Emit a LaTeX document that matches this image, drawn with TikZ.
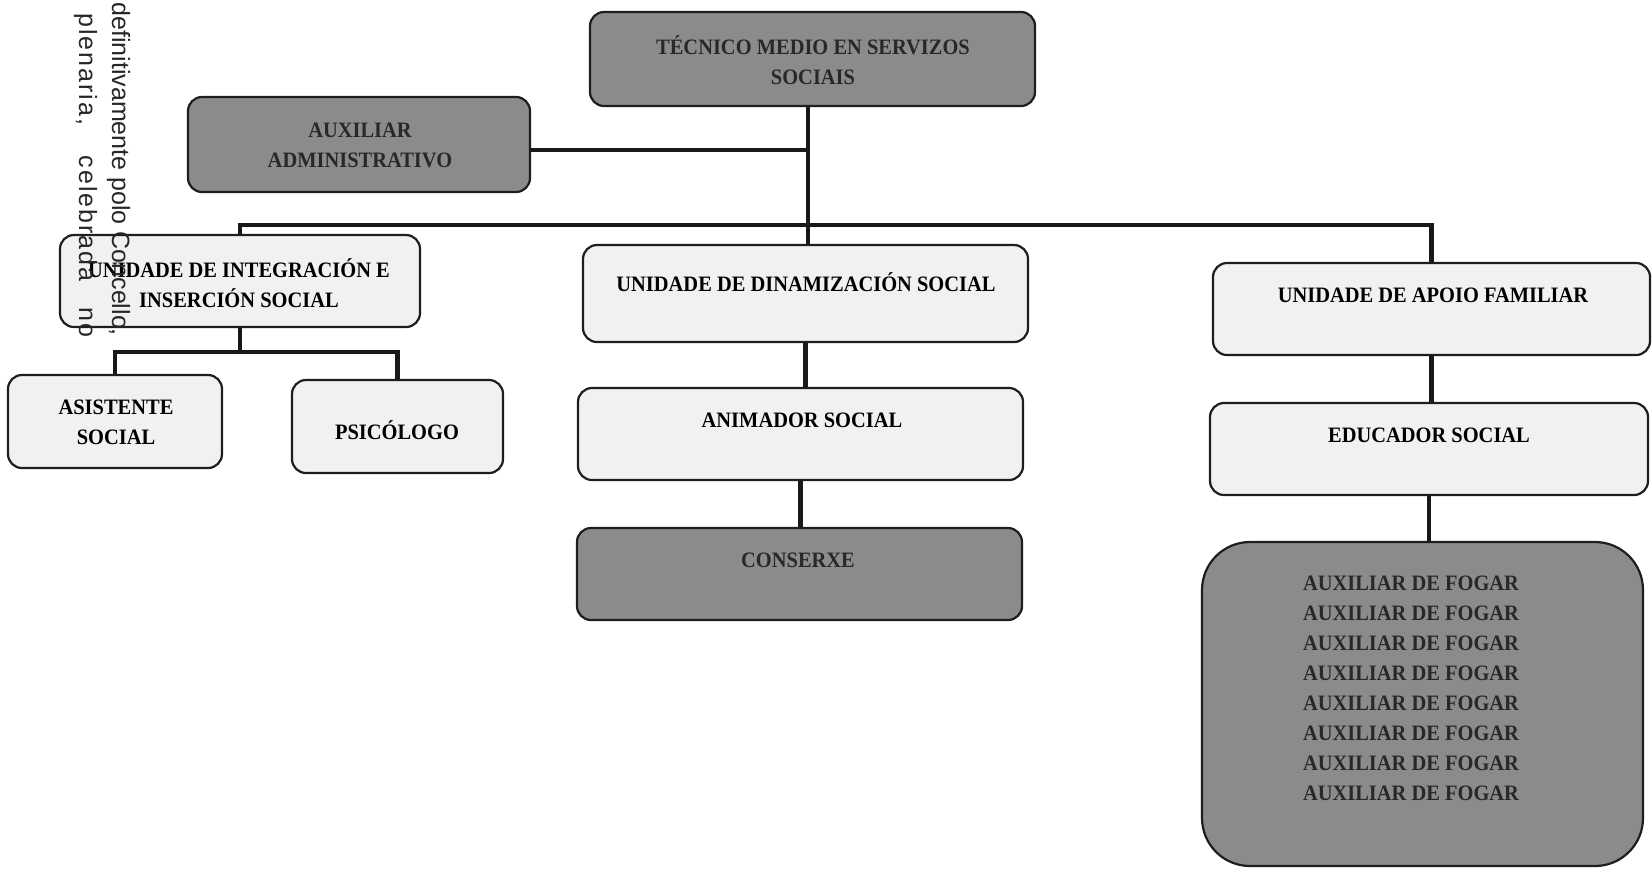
\documentclass[tikz,border=0pt]{standalone}
\usepackage{fontspec}
\setmainfont{Liberation Serif}
\newfontfamily\boxfont[FakeStretch=0.93]{Liberation Serif}
\newfontfamily\sidefont{Liberation Sans}
\usetikzlibrary{calc}
\definecolor{darkfill}{RGB}{138,140,140}
\definecolor{lightfill}{RGB}{240,241,243}
\definecolor{edgecol}{RGB}{30,30,30}
\definecolor{darktext}{RGB}{40,40,40}
\begin{document}
\begin{tikzpicture}[x=0.5pt,y=-0.5pt,
  boxbase/.style={draw=edgecol, line width=1.1pt, rounded corners=7pt, inner sep=0pt, anchor=center},
  lightbox/.style={boxbase, fill=lightfill},
  darkbox/.style={boxbase, fill=darkfill},
  sz/.style 2 args={minimum width=#1*0.5pt, minimum height=#2*0.5pt},
  lbl/.style={font=\boxfont\bfseries\fontsize{11pt}{15pt}\selectfont, align=center, inner sep=0pt, text=black},
  dlbl/.style={lbl, text=darktext},
  conn/.style={line width=2.3pt, draw=black!90},
  side/.style={font=\sidefont\fontsize{12.5pt}{15pt}\selectfont, rotate=-90, anchor=base west, inner sep=0pt, text=black!85}
]
\fill[white] (0,0) rectangle (1652,875);
\useasboundingbox (0,0) rectangle (1652,875);

% boxes
\node[darkbox, sz={445}{94}] (tec) at (812.5,59) {};
\node[darkbox, sz={342}{95}] (aux) at (359,144.5) {};
\node[lightbox, sz={360}{92}] (integ) at (240,281) {};
\node[lightbox, sz={214}{93}] (asist) at (115,421.5) {};
\node[lightbox, sz={211}{93}] (psico) at (397.5,426.5) {};
\node[lightbox, sz={445}{97}] (dina) at (805.5,293.5) {};
\node[lightbox, sz={445}{92}] (anim) at (800.5,434) {};
\node[darkbox, sz={445}{92}] (cons) at (799.5,574) {};
\node[lightbox, sz={437}{92}] (apoio) at (1431.5,309) {};
\node[lightbox, sz={438}{92}] (educ) at (1429,449) {};
\node[darkbox, sz={441}{324}, rounded corners=24pt] (fogar) at (1422.5,704) {};

% connectors
\coordinate (tx) at (808,0);
\coordinate (auxline) at (0,150);
\coordinate (bus) at (0,225);
\coordinate (sub) at (0,352);
\draw[conn] (tec.south -| tx) -- (dina.north -| tx);
\draw[conn] (auxline -| aux.east) -- (auxline -| tx);
\draw[conn] (integ.north) |- (bus -| apoio.north) -- (apoio.north);
\draw[conn] (integ.south) -- (integ.south |- sub);
\draw[conn] (asist.north) |- (sub -| psico.north) -- (psico.north);
\draw[conn] (dina.south) -- (dina.south |- anim.north);
\draw[conn] (anim.south) -- (anim.south |- cons.north);
\draw[conn] (apoio.south) -- (apoio.south |- educ.north);
\draw[conn] (educ.south) -- (educ.south |- fogar.north);

% labels
\node[dlbl] (tec-t) at (813,60) {TÉCNICO MEDIO EN SERVIZOS\\SOCIAIS};
\node[dlbl] (aux-t) at (360,145) {AUXILIAR\\ADMINISTRATIVO};
\node[lbl] (integ-t) at (239,283) {UNIDADE DE INTEGRACIÓN E\\INSERCIÓN SOCIAL};
\node[lbl] (asist-t) at (116,422) {ASISTENTE\\SOCIAL};
\node[lbl] (psico-t) at (397,430) {PSICÓLOGO};
\node[lbl] (dina-t) at (806,282) {UNIDADE DE DINAMIZACIÓN SOCIAL};
\node[lbl] (anim-t) at (802,420) {ANIMADOR SOCIAL};
\node[dlbl] (cons-t) at (798,560) {CONSERXE};
\node[lbl] (apoio-t) at (1433,295) {UNIDADE DE APOIO FAMILIAR};
\node[lbl] (educ-t) at (1429,435) {EDUCADOR SOCIAL};
\node[dlbl] (fogar-t) at (1411,688) {AUXILIAR DE FOGAR\\AUXILIAR DE FOGAR\\AUXILIAR DE FOGAR\\AUXILIAR DE FOGAR\\AUXILIAR DE FOGAR\\AUXILIAR DE FOGAR\\AUXILIAR DE FOGAR\\AUXILIAR DE FOGAR};

% rotated margin text
\node[side] (side1) at (112,2) {definitivamente polo Concello,};
\node[side] (side2) at (79,13) {\addfontfeature{LetterSpace=8}\makebox[162pt][s]{plenaria, celebrada no}};
\end{tikzpicture}
\end{document}
